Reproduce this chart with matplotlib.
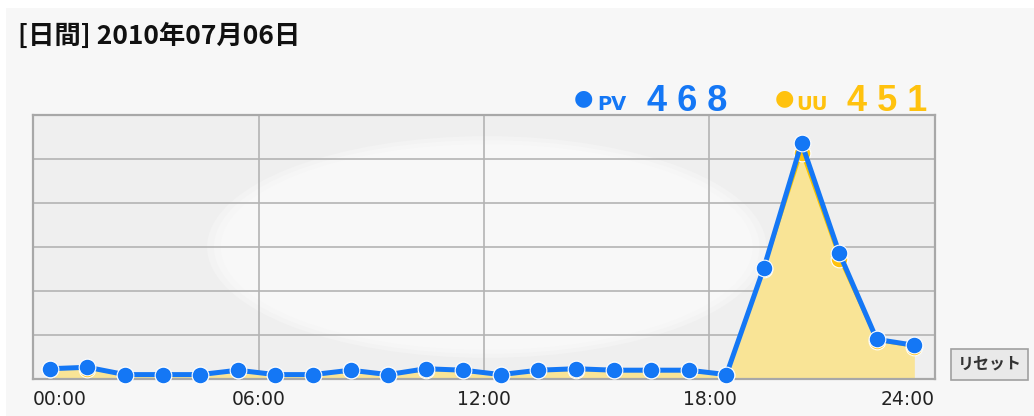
import matplotlib.pyplot as plt
from matplotlib.patches import Ellipse, Rectangle, FancyBboxPatch

# ====================== データ ======================
hours = list(range(24))
pv = [7, 8, 3, 3, 3, 6, 3, 3, 6, 3, 7, 6, 3, 6, 7, 6, 6, 6, 3, 76, 161, 86, 27, 23]
uu = [7, 7, 3, 3, 3, 6, 3, 3, 6, 3, 6, 6, 3, 6, 6, 6, 6, 6, 3, 75, 154, 82, 26, 22]
tick_pos = [0, 6, 12, 18, 24]
tick_labels = ["00:00", "06:00", "12:00", "18:00", "24:00"]
title = "[日間] 2010年07月06日"

BLUE = "#1477f5"
YELLOW = "#ffc20e"
FILL = "#f9e496"

plt.rcParams["font.family"] = ["DejaVu Sans", "Noto Sans CJK JP"]

W, H = 1034, 416
fig = plt.figure(figsize=(W / 100, H / 100), dpi=100, facecolor="white")

# 背景パネル
fig.patches.append(Rectangle((6 / W, 0), 1, 1 - 8 / H, transform=fig.transFigure,
                             facecolor="#f7f7f7", edgecolor="none", zorder=-10))

ax = fig.add_axes([33 / W, (H - 379) / H, (935 - 33) / W, (379 - 115) / H])
ax.set_facecolor("#efefef")

# 中央の白いぼかし
for w, h, c in [(0.62, 0.84, "#f3f3f3"), (0.605, 0.81, "#f6f6f6"), (0.59, 0.78, "#f8f8f8")]:
    ax.add_patch(Ellipse((0.503, 0.5), w, h, transform=ax.transAxes,
                         facecolor=c, edgecolor="none", zorder=0))

ax.set_xlim(0, 24)
ax.set_ylim(0, 180)
for x in [6, 12, 18]:
    ax.axvline(x, color="#b4b4b4", lw=1.2, zorder=1)
for y in range(30, 180, 30):
    ax.axhline(y, color="#b4b4b4", lw=1.2, zorder=1)

xs = [h + 0.45 for h in hours]

# UU（塗りつぶし）
ax.fill_between(xs, uu, 0, color=FILL, lw=0, zorder=2)
ax.plot(xs, uu, color="#f3c300", lw=1.5, zorder=3)
ax.plot(xs, uu, "o", color=YELLOW, ms=12, mec="white", mew=0.8, zorder=4, clip_on=False)

# PV
ax.plot(xs, pv, color=BLUE, lw=3.6, zorder=5, solid_capstyle="round")
ax.plot(xs, pv, "o", color=BLUE, ms=12, mec="white", mew=0.8, zorder=6, clip_on=False)

for s in ax.spines.values():
    s.set_color("#a8a8a8")
    s.set_linewidth(1.6)
ax.set_yticks([])
ax.set_xticks(tick_pos)
ax.set_xticklabels(tick_labels, fontsize=13.5, color="#222222")
ax.tick_params(axis="x", length=0, pad=8)
labels = ax.get_xticklabels()
labels[0].set_ha("left")
labels[-1].set_ha("right")

# タイトル
fig.text(18 / W, 1 - 36 / H, title, fontsize=19, fontweight="bold", color="#111111",
         va="center", ha="left", family=["Noto Sans CJK JP", "DejaVu Sans"])

# 凡例
def legend_item(x_dot, x_txt, x_num, label, total, color, dot_color):
    fig.text(x_dot / W, 1 - 98 / H, "●", fontsize=16, color=dot_color, ha="center", va="center",
             family=["DejaVu Sans"])
    fig.text(x_txt / W, 1 - 110 / H, label, fontsize=14, fontweight="bold", color=color,
             ha="left", va="baseline", family=["DejaVu Sans"])
    fig.text(x_num / W, 1 - 111 / H, " ".join(str(total)), fontsize=26, fontweight="bold",
             color=color, ha="left", va="baseline", family=["Liberation Sans"])

legend_item(583, 597, 647, "PV", sum(pv), BLUE, BLUE)
legend_item(784, 796, 847, "UU", sum(uu), YELLOW, YELLOW)

# リセットボタン
fig.patches.append(FancyBboxPatch((951 / W, (H - 380) / H), 77 / W, 31 / H,
                                  boxstyle="square,pad=0", transform=fig.transFigure,
                                  facecolor="#e9e9e9", edgecolor="#a0a0a0", lw=1.2))
fig.text(989.5 / W, 1 - 364 / H, "リセット", fontsize=11.5, fontweight="bold", color="#333333",
         ha="center", va="center", family=["Noto Sans CJK JP"])

fig.savefig("out.png", dpi=100, facecolor=fig.get_facecolor())
